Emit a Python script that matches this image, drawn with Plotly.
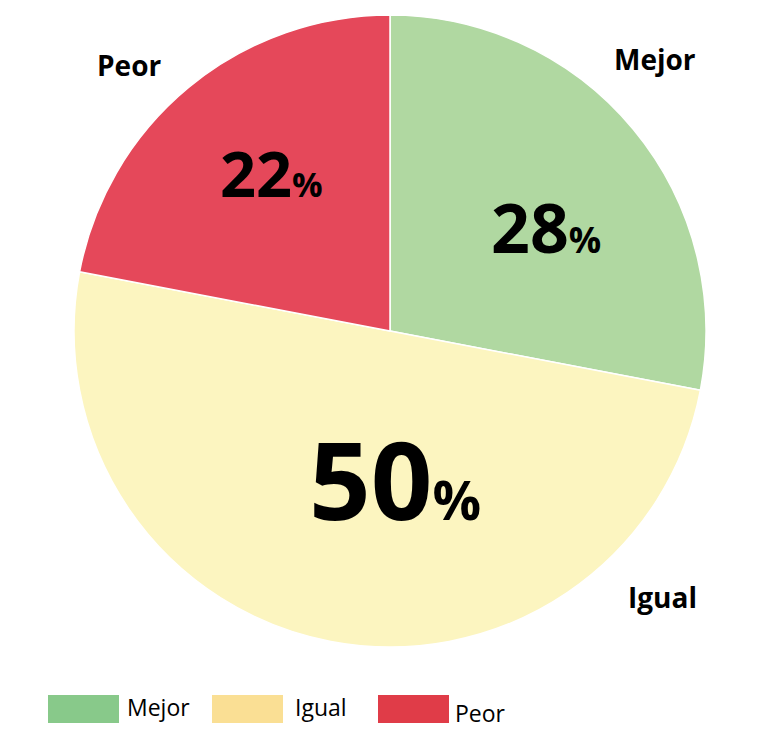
import plotly.graph_objects as go

# Survey answers: share of respondents per category
categories = ["Mejor", "Igual", "Peor"]
values = [28, 50, 22]
slice_colors = ["#b0d8a1", "#fcf5c0", "#e5485a"]
legend_colors = ["#88c98a", "#fadf94", "#e03c48"]

W, H = 762, 735
cx, cy, r = 390, 331, 316


def px(x):
    return x / W


def py(y):
    return 1 - y / H


fig = go.Figure(
    go.Pie(
        labels=categories,
        values=values,
        sort=False,
        direction="clockwise",
        rotation=0,
        marker=dict(colors=slice_colors, line=dict(color="white", width=1.5)),
        textinfo="none",
        hoverinfo="label+percent",
        showlegend=False,
        domain=dict(x=[px(cx - r), px(cx + r)], y=[py(cy + r), py(cy - r)]),
    )
)

annotations = []
shapes = []

# Percent labels inside the slices: large digits, smaller percent sign
pct_pos = {"Mejor": (546, 226, 68, 36), "Igual": (395, 478, 108, 54), "Peor": (271, 172, 63, 34)}
for cat, val in zip(categories, values):
    x, y, big, small = pct_pos[cat]
    annotations.append(dict(
        x=px(x), y=py(y), xref="paper", yref="paper",
        xanchor="center", yanchor="middle", showarrow=False,
        text=f"<b>{val}</b><span style='font-size:{small}px'><b>%</b></span>",
        font=dict(family="Open Sans", size=big, color="black"),
    ))

# Category names outside the pie
name_pos = {"Mejor": (655, 59), "Igual": (662, 597), "Peor": (129, 65)}
for cat in categories:
    x, y = name_pos[cat]
    annotations.append(dict(
        x=px(x), y=py(y), xref="paper", yref="paper",
        xanchor="center", yanchor="middle", showarrow=False,
        text=f"<b>{cat}</b>",
        font=dict(family="Open Sans", size=28, color="black"),
    ))

# Legend row at the bottom
legend_items = [(48, 119, 125, 707), (212, 283, 293, 707), (378, 449, 453, 713)]
for cat, col, (x0, x1, tx, ty) in zip(categories, legend_colors, legend_items):
    shapes.append(dict(
        type="rect", xref="paper", yref="paper",
        x0=px(x0), x1=px(x1), y0=py(723), y1=py(695),
        fillcolor=col, line=dict(width=0),
    ))
    annotations.append(dict(
        x=px(tx), y=py(ty), xref="paper", yref="paper",
        xanchor="left", yanchor="middle", showarrow=False,
        text=cat,
        font=dict(family="Open Sans", size=23, color="black"),
    ))

fig.update_layout(
    width=W, height=H,
    margin=dict(l=0, r=0, t=0, b=0),
    paper_bgcolor="white",
    plot_bgcolor="white",
    annotations=annotations,
    shapes=shapes,
)

fig.write_html("out.html")
